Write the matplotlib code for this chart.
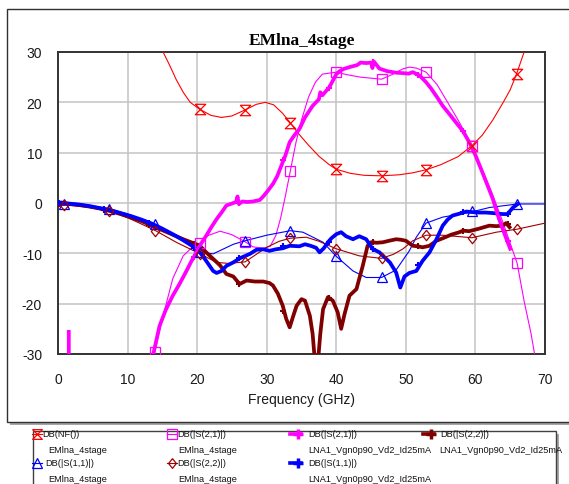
"""
EMlna_4stage: EM-симуляция 4-каскадного МШУ против измерений LNA1.

Строит NF, |S21|, |S11|, |S22| в дБ по частоте и рисует рамку графика
с легендой под ним в стиле отчёта симулятора.
"""

import matplotlib

matplotlib.use("Agg")

import matplotlib.pyplot as plt
import numpy as np
from matplotlib.lines import Line2D
from matplotlib.patches import Rectangle

plt.rcParams["font.family"] = ["Liberation Sans", "DejaVu Sans"]
plt.rcParams["axes.unicode_minus"] = False

W, H = 569, 485

RED = "#ff0000"
MAGENTA = "#ff00ff"
BLUE = "#0000ff"
DARK_RED = "#800000"
BROWN_RED = "#a00000"

# частоты маркеров (ГГц)
MK_EM = [0.9, 7.3, 13.9, 20.4, 26.9, 33.4, 40.0, 46.5, 52.9, 59.5, 66.0]
MK_MEAS = [0.2, 6.6, 13.1, 19.5, 26.0, 32.4, 38.9, 45.3, 51.8, 58.2, 64.7]

# DB(NF()) EMlna_4stage
nf_f = [15.1, 16.0, 17.0, 18.0, 19.0, 20.4, 22.0, 23.5, 25.0, 26.9, 28.5, 29.8,
        31.0, 32.3, 33.4, 34.5, 36.0, 37.5, 39.0, 40.0, 42.0, 44.0, 46.5, 49.0,
        51.0, 52.9, 55.0, 57.5, 59.5, 61.0, 62.5, 64.0, 65.0, 65.9, 67.0]
nf_db = [30.0, 27.5, 24.5, 22.0, 20.0, 18.6, 17.4, 17.0, 17.3, 18.5, 19.6, 20.0,
         19.5, 17.8, 15.9, 13.9, 11.5, 9.3, 7.6, 6.7, 5.9, 5.5, 5.4, 5.6,
         6.0, 6.6, 7.6, 9.2, 11.4, 13.5, 16.5, 20.0, 22.5, 25.6, 30.0]
nf_mk = [np.nan, np.nan, np.nan, 18.6, 18.5, 15.9, 6.7, 5.4, 6.6, 11.4, 25.6]

# DB(|S(2,1)|) EMlna_4stage
s21_em_f = [13.7, 13.9, 15.0, 16.5, 18.0, 19.5, 20.4, 21.5, 23.3, 25.0, 26.9, 28.0,
            29.5, 30.5, 31.3, 32.0, 32.7, 33.4, 34.2, 35.0, 36.0, 37.0, 38.0, 40.0,
            41.5, 43.5, 46.5, 48.0, 49.5, 50.5, 51.5, 52.9, 54.5, 56.0, 57.5, 59.5,
            61.0, 62.5, 64.0, 65.0, 66.0, 67.0, 68.0, 68.5]
s21_em_db = [-31.0, -29.6, -23.0, -15.0, -10.5, -8.5, -8.0, -6.5, -5.6, -6.3, -7.7, -8.7,
             -9.0, -8.6, -6.5, -3.0, 1.5, 6.4, 12.0, 16.5, 21.0, 24.0, 25.6, 26.0,
             25.5, 25.0, 24.6, 25.5, 26.6, 27.0, 26.8, 26.0, 23.5, 20.0, 16.5, 11.4,
             6.5, 1.5, -4.0, -8.0, -12.0, -19.5, -26.0, -30.0]
s21_em_mk = [np.nan, np.nan, -29.6, -8.0, -7.7, 6.4, 26.0, 24.6, 26.0, 11.4, -12.0]

# DB(|S(1,1)|) EMlna_4stage
s11_em_f = [0.0, 0.9, 3.0, 5.0, 7.3, 10.0, 12.0, 13.9, 16.0, 18.0, 20.4, 22.3,
            25.2, 26.9, 30.0, 33.4, 35.2, 38.1, 40.0, 42.4, 44.3, 46.5, 48.6, 50.5,
            51.5, 52.9, 55.3, 59.1, 62.0, 66.0, 70.0]
s11_em_db = [0.0, -0.1, -0.3, -0.7, -1.1, -2.2, -3.2, -4.2, -5.8, -7.6, -9.8, -10.1,
             -8.2, -7.5, -6.4, -5.5, -5.8, -7.8, -10.6, -13.5, -14.8, -14.8, -13.3, -9.5,
             -6.8, -4.0, -2.8, -1.9, -0.9, -0.2, -0.2]
s11_em_mk = [-0.1, -1.1, -4.2, -9.8, -7.5, -5.5, -10.6, -14.8, -3.9, -1.6, -0.2]

# DB(|S(2,2)|) EMlna_4stage
s22_em_f = [0.0, 0.9, 4.0, 7.3, 10.0, 13.9, 17.0, 20.4, 22.8, 24.5, 26.9, 28.5,
            30.0, 31.8, 33.4, 35.7, 37.5, 40.0, 43.3, 46.5, 48.2, 49.6, 51.0, 52.9,
            55.3, 59.5, 63.0, 66.0, 70.0]
s22_em_db = [-0.2, -0.3, -0.8, -1.5, -2.9, -5.4, -7.8, -10.1, -11.8, -12.0, -11.7, -10.2,
             -8.8, -7.6, -7.0, -6.8, -7.6, -9.1, -10.5, -11.0, -10.2, -9.1, -7.5, -6.4,
             -6.4, -6.9, -5.8, -5.2, -4.0]
s22_em_mk = [-0.3, -1.5, -5.5, -10.1, -11.7, -7.0, -9.1, -11.0, -6.4, -6.9, -5.2]

# DB(|S(2,1)|) LNA1_Vgn0p90_Vd2_Id25mA
s21_meas_f = [1.55, 1.6, 13.0, 13.7, 14.6, 15.5, 16.5, 17.5, 18.5, 19.2, 19.9, 20.6,
              21.3, 22.0, 22.8, 23.5, 24.2, 25.0, 25.6, 25.8, 26.0, 26.5, 27.2, 28.0,
              29.0, 29.5, 30.2, 30.9, 31.5, 32.1, 32.7, 33.3, 34.0, 34.7, 35.5, 36.6,
              37.5, 37.7, 38.0, 39.0, 40.0, 40.5, 41.0, 41.9, 43.0, 43.5, 44.3, 45.0,
              45.2, 45.4, 46.2, 47.3, 48.5, 49.6, 50.4, 51.0, 52.0, 52.9, 53.6, 54.5,
              55.3, 56.3, 57.2, 58.2, 59.1, 60.0, 61.0, 62.0, 62.5, 63.4, 64.2, 65.0]
s21_meas_db = [-25.6, -60.0, -60.0, -30.0, -24.4, -21.2, -18.4, -16.0, -13.4, -11.5, -9.8, -8.0,
               -6.5, -4.9, -3.2, -1.9, -0.5, -0.1, 0.2, 1.3, -0.2, 0.3, 0.2, 0.3,
               0.6, 1.3, 2.5, 3.8, 5.3, 7.4, 9.5, 12.1, 13.5, 14.7, 17.0, 19.3,
               20.6, 22.0, 21.4, 23.0, 25.6, 26.2, 26.6, 27.0, 27.4, 27.9, 27.8, 27.9,
               26.8, 28.1, 26.7, 26.2, 25.9, 25.8, 25.7, 26.0, 25.3, 24.0, 22.8, 21.0,
               19.3, 17.6, 16.0, 14.3, 12.1, 9.5, 6.1, 2.6, 0.8, -3.2, -6.2, -9.1]
s21_meas_mk = [np.nan, np.nan, np.nan, -10.8, 0.0, 8.6, 22.8, 28.0, 25.4, 14.3, -7.5]

# DB(|S(2,2)|) LNA1_Vgn0p90_Vd2_Id25mA
s22_meas_f = [0.0, 1.5, 3.0, 4.5, 6.0, 7.5, 9.0, 10.5, 12.0, 13.5, 15.0, 16.5,
              18.0, 19.5, 20.4, 21.3, 22.3, 23.3, 24.2, 25.2, 26.1, 27.1, 28.3, 29.5,
              30.4, 30.9, 31.6, 32.3, 32.8, 33.3, 33.8, 34.3, 35.0, 35.5, 36.2, 36.6,
              36.9, 37.4, 37.7, 38.1, 38.8, 39.5, 40.2, 40.7, 41.2, 41.9, 42.9, 43.8,
              44.5, 45.0, 45.8, 46.7, 47.6, 48.6, 49.3, 50.0, 51.0, 51.7, 52.4, 53.4,
              54.4, 55.5, 56.5, 57.7, 58.2, 59.1, 60.5, 62.0, 63.0, 63.9, 64.4, 64.9]
s22_meas_db = [-0.2, -0.2, -0.4, -0.7, -1.1, -1.6, -2.2, -2.9, -3.6, -4.5, -5.4, -6.3,
               -7.2, -8.0, -8.5, -9.8, -11.1, -12.4, -14.1, -14.6, -16.1, -15.4, -15.6, -15.6,
               -15.9, -16.4, -18.0, -20.4, -23.0, -24.7, -22.5, -20.4, -19.1, -19.4, -22.4, -26.0,
               -31.0, -31.0, -26.0, -21.1, -18.7, -19.4, -21.7, -25.0, -22.0, -18.4, -17.1, -12.5,
               -8.5, -7.8, -7.9, -7.8, -7.5, -7.2, -7.3, -7.5, -8.5, -8.6, -8.8, -8.5,
               -7.5, -6.9, -6.3, -5.8, -5.5, -5.6, -5.1, -4.5, -4.6, -4.5, -4.0, -4.8]
s22_meas_mk = [-0.2, -1.3, -4.3, -8.2, -16.0, -21.4, -18.9, -7.8, -8.6, -5.5, -4.2]

# DB(|S(1,1)|) LNA1_Vgn0p90_Vd2_Id25mA
s11_meas_f = [0.0, 0.5, 1.5, 3.0, 4.5, 6.0, 7.5, 9.0, 10.5, 12.0, 13.5, 15.0,
              16.5, 18.0, 19.5, 20.4, 21.3, 22.3, 22.8, 23.5, 24.2, 25.2, 26.1, 27.6,
              28.5, 29.5, 30.4, 31.3, 32.3, 33.3, 34.7, 35.5, 36.3, 37.1, 37.6, 38.2,
              38.8, 39.3, 40.0, 40.7, 41.4, 42.4, 43.3, 44.3, 45.2, 46.2, 47.7, 48.6,
              49.2, 49.8, 50.5, 51.5, 52.4, 53.4, 54.4, 55.3, 56.0, 56.7, 57.5, 58.7,
              59.5, 60.5, 61.5, 62.5, 63.9, 64.6, 65.4, 66.1]
s11_meas_db = [0.0, 0.1, -0.1, -0.3, -0.6, -1.0, -1.4, -2.0, -2.6, -3.3, -4.1, -5.1,
               -6.2, -7.4, -8.7, -9.8, -11.5, -13.5, -13.9, -13.5, -12.5, -11.8, -11.0, -10.1,
               -9.3, -9.2, -9.5, -9.2, -9.0, -8.5, -8.6, -8.2, -8.5, -8.9, -9.8, -9.0,
               -7.8, -7.0, -6.2, -5.8, -6.6, -7.2, -6.6, -7.2, -9.1, -9.8, -11.8, -13.8,
               -16.8, -14.6, -13.9, -13.5, -11.5, -9.8, -7.2, -4.5, -3.3, -2.5, -2.2, -1.7,
               -1.8, -1.9, -1.9, -2.0, -2.2, -2.2, -0.9, -0.2]
s11_meas_mk = [0.0, -1.2, -3.9, -9.0, -11.0, -8.6, -7.7, -9.1, -12.3, -1.8, -2.2]

X_TICKS = [0, 10, 20, 30, 40, 50, 60, 70]
Y_TICKS = [-30, -20, -10, 0, 10, 20, 30]

HOURGLASS = [(-1, 1), (1, 1), (-1, -1), (1, -1), (-1, 1)]
DIAMOND = [(0, 1), (0.8, 0), (0, -1), (-0.8, 0), (0, 1)]

LEGEND_FS = 6.6
ROW1_Y, ROW2_Y = 435, 463.5
LINE_STEP = 16


def fx(px: float) -> float:
    return px / W


def fy(py: float) -> float:
    return 1 - py / H


def box(fig, x0, y0, x1, y1, shadow=3, **kw) -> None:
    """Прямоугольник в пикселях фигуры с серой тенью справа-снизу."""
    fig.add_artist(Rectangle((fx(x0 + shadow), fy(y1 + shadow)), (x1 - x0) / W, (y1 - y0) / H,
                             transform=fig.transFigure, facecolor="#a6a6a6",
                             edgecolor="none", zorder=-3))
    fig.add_artist(Rectangle((fx(x0), fy(y1)), (x1 - x0) / W, (y1 - y0) / H,
                             transform=fig.transFigure, facecolor="white", zorder=-2, **kw))


def em_trace(ax, f, db, mk, color, marker, ms) -> None:
    ax.plot(f, db, color=color, lw=0.8, zorder=3)
    ax.plot(MK_EM, mk, ls="none", marker=marker, ms=ms, mfc="none", mec=color,
            mew=0.9, zorder=6)


def meas_trace(ax, f, db, mk, color, z) -> None:
    ax.plot(f, db, color=color, lw=2.7, zorder=z, solid_joinstyle="round")
    ax.plot(MK_MEAS, mk, ls="none", marker="+", ms=4, mew=1.5, color=color, zorder=z)


def legend_entry(fig, xc, yc, text1, text2, x1, x2, color, marker, ms, thick=False) -> None:
    if thick:
        fig.add_artist(Line2D([fx(xc - 8), fx(xc + 3)], [fy(yc), fy(yc)], color=color,
                              lw=2.6, transform=fig.transFigure))
        fig.add_artist(Line2D([fx(xc)], [fy(yc)], ls="none", marker="+", ms=7, mew=2.5,
                              color=color, transform=fig.transFigure))
    else:
        fig.add_artist(Line2D([fx(xc - 5), fx(xc + 5)], [fy(yc), fy(yc)], color=color,
                              lw=0.8, transform=fig.transFigure))
        fig.add_artist(Line2D([fx(xc)], [fy(yc)], ls="none", marker=marker, ms=ms,
                              mfc="none", mec=color, mew=0.9, transform=fig.transFigure))
    fig.text(fx(x1), fy(yc), text1, fontsize=LEGEND_FS, ha="left", va="center",
             color="#111111")
    fig.text(fx(x2), fy(yc + LINE_STEP), text2, fontsize=LEGEND_FS, ha="left", va="center",
             color="#111111")


def main() -> None:
    fig = plt.figure(figsize=(W / 100, H / 100), dpi=100)

    box(fig, 7, 10, 600, 423, shadow=3, edgecolor="#303030", lw=1.0)
    box(fig, 33, 432, 556, 500, shadow=3, edgecolor="#404040", lw=1.0)

    ax = fig.add_axes([fx(58), fy(355), (545 - 58) / W, (355 - 53) / H])
    ax.set_xlim(0, 70)
    ax.set_ylim(-30, 30)
    ax.set_xticks(X_TICKS)
    ax.set_yticks(Y_TICKS)
    ax.tick_params(length=0, labelsize=10, labelcolor="#1a1a1a")
    ax.tick_params(axis="y", pad=11.5)
    ax.tick_params(axis="x", pad=13)
    ax.grid(True, color="#c8c8c8", lw=1.2)
    ax.set_axisbelow(True)
    for sp in ax.spines.values():
        sp.set_color("#333333")
        sp.set_linewidth(1.4)

    em_trace(ax, nf_f, nf_db, nf_mk, RED, HOURGLASS, 7.5)
    em_trace(ax, s21_em_f, s21_em_db, s21_em_mk, MAGENTA, "s", 6.5)
    em_trace(ax, s11_em_f, s11_em_db, s11_em_mk, BLUE, "^", 7)
    em_trace(ax, s22_em_f, s22_em_db, s22_em_mk, BROWN_RED, DIAMOND, 7.5)

    meas_trace(ax, s22_meas_f, s22_meas_db, s22_meas_mk, DARK_RED, 4)
    meas_trace(ax, s11_meas_f, s11_meas_db, s11_meas_mk, BLUE, 4.1)
    meas_trace(ax, s21_meas_f, s21_meas_db, s21_meas_mk, MAGENTA, 4.2)

    fig.text(fx(301.5), fy(45), "EMlna_4stage", fontsize=12.5, fontweight="bold",
             family=["Liberation Serif", "DejaVu Serif"], ha="center", va="baseline")
    fig.text(fx(301.5), fy(400), "Frequency (GHz)", fontsize=10, ha="center",
             va="center", color="#1a1a1a")

    meas = "LNA1_Vgn0p90_Vd2_Id25mA"
    legend_entry(fig, 37, ROW1_Y, "DB(NF())", "EMlna_4stage", 42, 48.5, RED, HOURGLASS, 7)
    legend_entry(fig, 172, ROW1_Y, "DB(|S(2,1)|)", "EMlna_4stage", 177, 178, MAGENTA, "s", 6.5)
    legend_entry(fig, 298, ROW1_Y, "DB(|S(2,1)|)", meas, 308, 308, MAGENTA, None, 0, thick=True)
    legend_entry(fig, 431, ROW1_Y, "DB(|S(2,2)|)", meas, 440, 439.5, DARK_RED, None, 0, thick=True)
    legend_entry(fig, 37, ROW2_Y, "DB(|S(1,1)|)", "EMlna_4stage", 45, 48.5, BLUE, "^", 7)
    legend_entry(fig, 172, ROW2_Y, "DB(|S(2,2)|)", "EMlna_4stage", 177, 178, BROWN_RED, DIAMOND, 7)
    legend_entry(fig, 298, ROW2_Y, "DB(|S(1,1)|)", meas, 308, 308, BLUE, None, 0, thick=True)

    fig.savefig("out.png", dpi=100)
    plt.close(fig)


if __name__ == "__main__":
    main()
